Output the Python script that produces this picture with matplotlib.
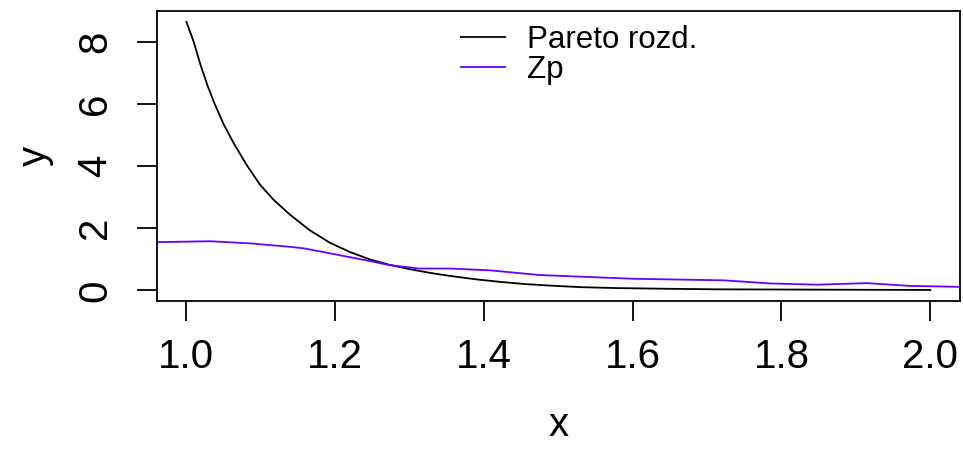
import numpy as np
import matplotlib
matplotlib.use("Agg")
from matplotlib import pyplot as plt

# Pareto density
pareto_x = [1.0, 1.010, 1.019, 1.028, 1.037, 1.050, 1.064, 1.082, 1.099, 1.117,
            1.139, 1.166, 1.193, 1.220, 1.247, 1.273, 1.300, 1.330, 1.355,
            1.390, 1.422, 1.455, 1.489, 1.530, 1.579, 1.640, 1.713, 1.780, 1.848,
            1.920, 2.0]
pareto_y = [8.65, 7.99, 7.26, 6.62, 6.06, 5.35, 4.72, 4.00, 3.40, 2.92,
            2.44, 1.93, 1.53, 1.23, 0.99, 0.82, 0.68, 0.55, 0.46,
            0.35, 0.27, 0.20, 0.15, 0.10, 0.07, 0.05, 0.03, 0.025, 0.02,
            0.015, 0.01]

# Zp estimate
zp_x = [0.96, 1.032, 1.086, 1.139, 1.158, 1.193, 1.247, 1.273, 1.313, 1.355,
        1.409, 1.475, 1.601, 1.722, 1.785, 1.848, 1.915, 1.973, 2.04]
zp_y = [1.55, 1.58, 1.51, 1.40, 1.35, 1.19, 0.94, 0.81, 0.70, 0.70,
        0.64, 0.49, 0.37, 0.32, 0.22, 0.18, 0.23, 0.14, 0.11]

x_ticks = [1.0, 1.2, 1.4, 1.6, 1.8, 2.0]
y_ticks = [0, 2, 4, 6, 8]

plt.rcParams['font.family'] = ['Liberation Sans', 'DejaVu Sans']

fig = plt.figure(figsize=(9.63, 4.51), dpi=100)
ax = fig.add_axes([0.1627, 0.3326, 0.9969 - 0.1627, 0.9756 - 0.3326])

ax.plot(pareto_x, pareto_y, color='black', linewidth=1.3, label='Pareto rozd.')
ax.plot(zp_x, zp_y, color='#6600FF', linewidth=1.3, label='Zp')

ax.set_xlim(0.96, 2.04)
ax.set_ylim(-0.346, 9.0)
ax.set_xticks(x_ticks)
ax.set_xticklabels(['%.1f' % t for t in x_ticks])
ax.set_yticks(y_ticks)
ax.set_yticklabels([str(t) for t in y_ticks], rotation=90, va='center')

# R-style box and ticks
for s in ax.spines.values():
    s.set_linewidth(1.3)
ax.tick_params(axis='both', length=14.4, width=1.3, labelsize=29)
ax.tick_params(axis='x', pad=12)
ax.tick_params(axis='y', pad=16)

ax.set_xlabel('x', fontsize=29, labelpad=22)
ax.set_ylabel('y', fontsize=29, labelpad=16)

ax.legend(loc='upper left', bbox_to_anchor=(0.3614, 1.0), frameon=False,
          fontsize=22.5, handlelength=1.41, handletextpad=0.7,
          labelspacing=0.0, borderaxespad=0.05)

fig.savefig('out.png', dpi=100)
